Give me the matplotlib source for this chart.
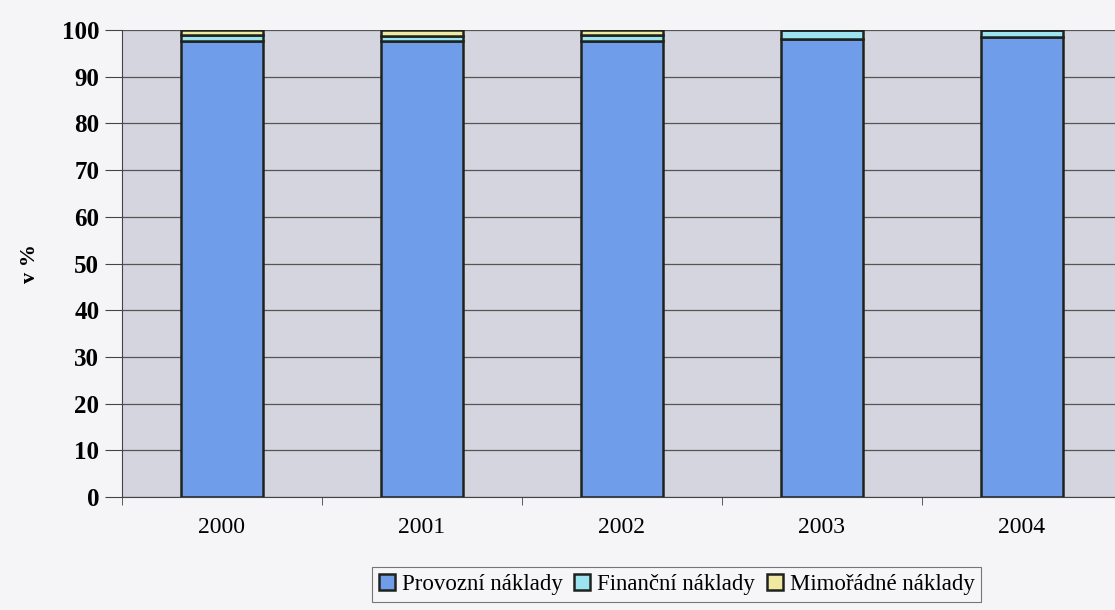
import matplotlib.pyplot as plt
import numpy as np

# data (percent of total costs)
years = ["2000", "2001", "2002", "2003", "2004"]
provozni = [97.7, 97.6, 97.7, 98.0, 98.5]
financni = [1.3, 1.0, 1.3, 2.0, 1.5]
mimoradne = [1.0, 1.4, 1.0, 0.0, 0.0]
labels = ["Provozní náklady", "Finanční náklady", "Mimořádné náklady"]

colors = ["#6f9de9", "#9ce4f0", "#efe9a2"]

plt.rcParams['font.family'] = ['Liberation Serif', 'DejaVu Serif']

fig = plt.figure(figsize=(11.15, 6.10), dpi=100, facecolor="#f5f5f7")
ax = fig.add_axes([0.109, 0.185, 0.897, 0.766])
ax.set_facecolor("#d5d5df")

x = np.arange(len(years))
w = 0.41
b1 = ax.bar(x, provozni, w, color=colors[0], edgecolor="#1e231e", linewidth=1.8, label=labels[0], zorder=3)
b2 = ax.bar(x, financni, w, bottom=provozni, color=colors[1], edgecolor="#1e231e", linewidth=1.8, label=labels[1], zorder=3)
bot = np.array(provozni) + np.array(financni)
b3 = ax.bar(x, mimoradne, w, bottom=bot, color=colors[2], edgecolor="#1e231e", linewidth=1.8, label=labels[2], zorder=3)

ax.set_xlim(-0.5, len(years) - 0.5)
ax.set_ylim(0, 100)
ax.set_yticks(range(0, 101, 10))
ax.yaxis.grid(True, color="#555555", linewidth=0.9, zorder=0)

ax.set_xticks(x)
ax.set_xticklabels(years, fontsize=17)
ax.set_xticks(np.arange(-0.5, len(years)), minor=True)
ax.tick_params(axis='x', which='major', length=0, pad=14)
ax.tick_params(axis='x', which='minor', length=6, color="#444444")
ax.tick_params(axis='y', length=12, color="#444444", labelsize=18, pad=4)
for t in ax.get_yticklabels():
    t.set_fontweight('bold')

for s in ["top", "right"]:
    ax.spines[s].set_visible(False)
ax.spines["left"].set_color("#444444")
ax.spines["bottom"].set_color("#444444")

ax.set_ylabel("v %", fontsize=16, fontweight='bold', labelpad=16)

leg = fig.legend(handles=[b1, b2, b3], labels=labels, loc="center", bbox_to_anchor=(0.607, 0.042),
                 ncol=3, fontsize=16.5, frameon=True, fancybox=False, handlelength=0.7, handleheight=0.7,
                 handletextpad=0.3, columnspacing=0.5, borderpad=0.3, edgecolor="#555555")
leg.get_frame().set_facecolor("#f7f7f9")
leg.get_frame().set_linewidth(0.8)

fig.savefig("out.png", dpi=100, facecolor=fig.get_facecolor())
